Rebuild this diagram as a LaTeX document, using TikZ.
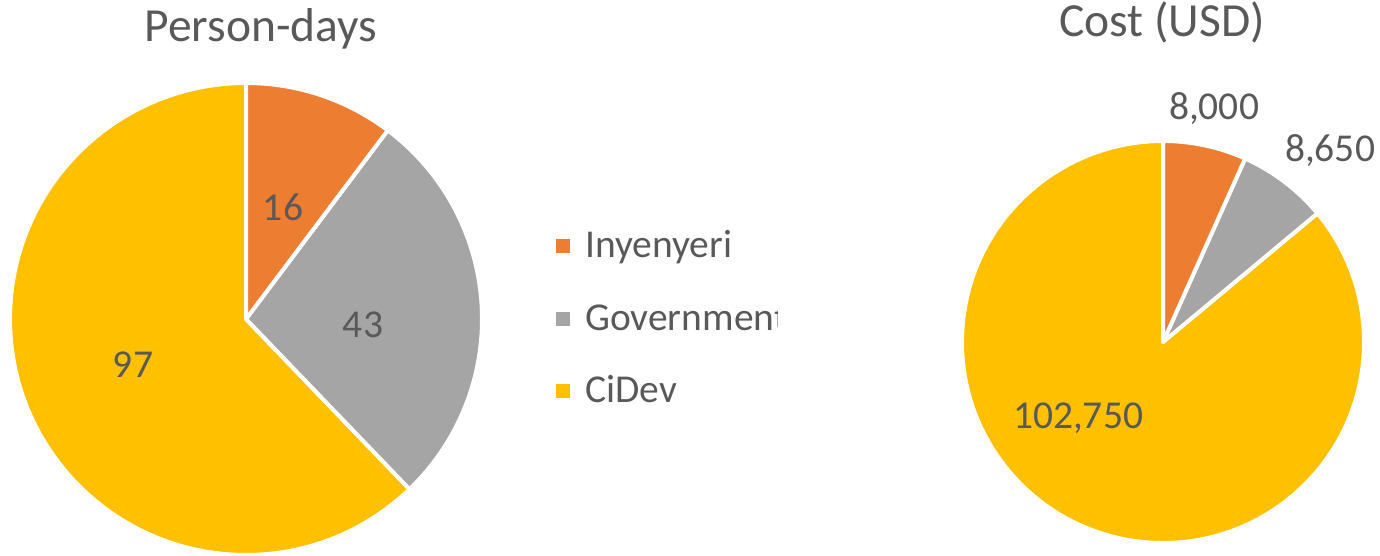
\documentclass[tikz,border=0pt]{standalone}
\usepackage{fontspec}
\setmainfont{Carlito}
\usetikzlibrary{calc}
\definecolor{inyorange}{HTML}{ED7D31}
\definecolor{govgray}{HTML}{A5A5A5}
\definecolor{cidevgold}{HTML}{FFC000}
\definecolor{txtgray}{HTML}{595959}

\begin{document}
\begin{tikzpicture}[x=1pt, y=1pt]
    \tikzstyle{every node}=[inner sep=0, text=txtgray, font=\fontsize{39.5}{42}\selectfont]
    \tikzstyle{slice}=[draw=white, line width=4pt, line join=round]
    \tikzstyle{title}=[anchor=base, font=\fontsize{47.5}{50}\selectfont]
    \useasboundingbox (0,0) rectangle (1380,555);
    % Person-days pie
    \coordinate (PD) at (246,236);
    \node[title] (PDT) at (261,513) {Person-days};
    \filldraw[slice, fill=cidevgold] (PD) -- ($(PD)+(-46.15:236)$) arc (-46.15:-270:236) -- cycle;
    \filldraw[slice, fill=govgray] (PD) -- ($(PD)+(53.08:236)$) arc (53.08:-46.15:236) -- cycle;
    \filldraw[slice, fill=inyorange] (PD) -- ($(PD)+(90:236)$) arc (90:53.08:236) -- cycle;
    \node (PDI) at ($(PD)+(37,112)$) {16};
    \node (PDG) at ($(PD)+(117,-6)$) {43};
    \node (PDC) at ($(PD)+(-113,-46)$) {97};
    % Cost pie
    \coordinate (CO) at (1163,213);
    \node[title] (COT) at (1162,518) {Cost (USD)};
    \filldraw[slice, fill=cidevgold] (CO) -- ($(CO)+(39.80:201)$) arc (39.80:-270:201) -- cycle;
    \filldraw[slice, fill=govgray] (CO) -- ($(CO)+(65.88:201)$) arc (65.88:39.80:201) -- cycle;
    \filldraw[slice, fill=inyorange] (CO) -- ($(CO)+(90:201)$) arc (90:65.88:201) -- cycle;
    \node (COI) at ($(CO)+(51,233)$) {8,000};
    \node (COG) at ($(CO)+(167,191)$) {8,650};
    \node (COC) at ($(CO)+(-85,-76)$) {102,750};
    % Legend
    \fill[inyorange] (556,302) rectangle ++(14,14);
    \fill[govgray] (556,229) rectangle ++(14,14);
    \fill[cidevgold] (556,157) rectangle ++(14,14);
    \node[anchor=base west] (LI) at (585,298) {Inyenyeri};
    \begin{scope}
        \clip (580,200) rectangle (777,270);
        \node[anchor=base west] (LG) at (585,225) {Government};
    \end{scope}
    \node[anchor=base west] (LC) at (585,153) {CiDev};
\end{tikzpicture}
\end{document}
